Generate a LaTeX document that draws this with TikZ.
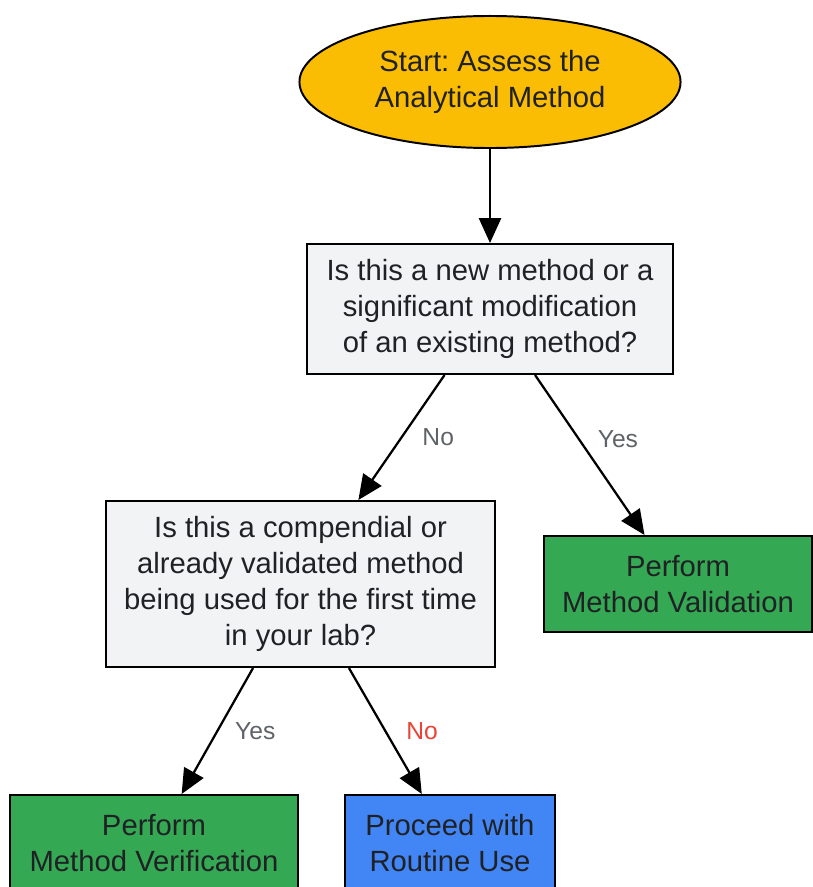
\documentclass[tikz,border=0pt]{standalone}
\usepackage{fontspec}
\setmainfont{Liberation Sans}
\usetikzlibrary{shapes.geometric,arrows.meta}
\frenchspacing
\definecolor{txtdark}{HTML}{202124}
\definecolor{lblgray}{HTML}{5F6368}
\definecolor{lblred}{HTML}{EA4335}
\definecolor{startyellow}{HTML}{FBBC04}
\definecolor{qgray}{HTML}{F1F3F4}
\definecolor{actgreen}{HTML}{34A853}
\definecolor{actblue}{HTML}{4285F4}
\begin{document}
\begin{tikzpicture}[x=0.025cm,y=-0.025cm,
  box/.style={draw, line width=1.4pt, text=txtdark, align=center, inner sep=0pt,
    font=\fontsize{20.8}{25.6}\selectfont},
  question/.style={box, rectangle, fill=qgray},
  action/.style={box, rectangle, fill=actgreen, minimum height=2.4cm},
  flow/.style={draw, line width=1.6pt, -{Triangle[length=0.62cm,width=0.55cm]}},
  lbl/.style={text=lblgray, anchor=west, xshift=0.38cm, font=\fontsize{17.5}{20}\selectfont}]
\useasboundingbox (0,0) rectangle (812,887);

\node[box, ellipse, fill=startyellow, minimum width=9.525cm, minimum height=3.3cm] (start) at (490,82) {Start: Assess the\\Analytical Method};
\node[question, minimum width=9.15cm, minimum height=3.25cm] (new) at (490,309) {Is this a new method or a\\significant modification\\of an existing method?};
\node[question, minimum width=9.725cm, minimum height=4.15cm] (comp) at (300.5,584) {Is this a compendial or\\already validated method\\being used for the first time\\in your lab?};
\node[action, minimum width=6.7cm] (valid) at (678,584) {Perform\\Method Validation};
\node[action, minimum width=7.2cm] (verif) at (154,843) {Perform\\Method Verification};
\node[action, fill=actblue, minimum width=5.25cm] (routine) at (450,843) {Proceed with\\Routine Use};

\path[flow] (start) -- (new);
\path[flow] (new) -- node[lbl, pos=0.5] {No} (comp);
\path[flow] (new) -- node[lbl, pos=0.4, xshift=-0.05cm] {Yes} (valid);
\path[flow] (comp) -- node[lbl, pos=0.5, xshift=-0.08cm] {Yes} (verif);
\path[flow] (comp) -- node[lbl, pos=0.5, text=lblred] {No} (routine);
\end{tikzpicture}
\end{document}
